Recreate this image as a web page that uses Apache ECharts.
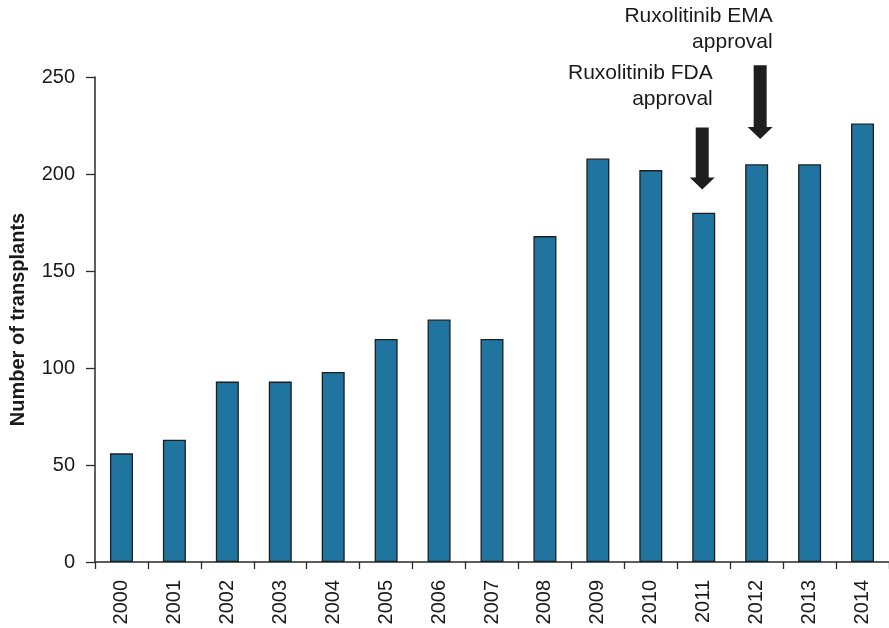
<!DOCTYPE html>
<html>
<head>
<meta charset="utf-8">
<script src="https://cdn.jsdelivr.net/npm/echarts@6/dist/echarts.min.js"></script>
<style>html,body{margin:0;padding:0;background:#fff}#c{width:889px;height:628px}</style>
</head>
<body>
<div id="c"></div>
<script>
const years = ['2000','2001','2002','2003','2004','2005','2006','2007','2008','2009','2010','2011','2012','2013','2014'];
const transplants = [56, 63, 93, 93, 98, 115, 125, 115, 168, 208, 202, 180, 205, 205, 226];
const yTicks = [0, 50, 100, 150, 200, 250];
const arrowYears = ['2011', '2012'];
const arrowTip = [192, 218];
const arrowTop = [224, 256];
const arrowLabels = ['Ruxolitinib FDA\napproval', 'Ruxolitinib EMA\napproval'];

const FONT = 'Liberation Sans, Arial, Helvetica, sans-serif';
const chart = echarts.init(document.getElementById('c'));

const arrowData = arrowYears.map((y, i) => [y, arrowTip[i], arrowTop[i]]);
// per-arrow horizontal nudge, text offsets (style only)
const arrowNudge = [-1.5, 3.5];
const textDx = [10.5, 12.5];
const textDy = [15, 10];

chart.setOption({
  animation: false,
  grid: { left: 95, right: 0, top: 77, bottom: 66, outerBoundsMode: 'none', containLabel: false },
  xAxis: {
    type: 'category',
    data: years,
    axisLine: { lineStyle: { color: '#2a2a2a', width: 1.5 } },
    axisTick: { show: true, length: 7, lineStyle: { color: '#2a2a2a', width: 1.3 } },
    axisLabel: { rotate: 90, fontSize: 20, color: '#1a1a1a', fontFamily: FONT, margin: 18 }
  },
  yAxis: {
    type: 'value',
    min: yTicks[0],
    max: yTicks[yTicks.length - 1],
    interval: 50,
    name: 'Number of transplants',
    nameLocation: 'middle',
    nameGap: 67,
    nameTextStyle: { fontSize: 20, fontWeight: 'bold', color: '#1a1a1a', fontFamily: FONT },
    splitLine: { show: false },
    axisLine: { show: true, lineStyle: { color: '#2a2a2a', width: 1.5 } },
    axisTick: { show: true, length: 9, lineStyle: { color: '#2a2a2a', width: 1.3 } },
    axisLabel: { fontSize: 20, color: '#1a1a1a', fontFamily: FONT, margin: 20 }
  },
  series: [
    {
      type: 'bar',
      data: transplants,
      barWidth: 23,
      itemStyle: { color: '#1f74a0', borderColor: '#1e1e1e', borderWidth: 1.3 }
    },
    {
      type: 'custom',
      data: arrowData,
      clip: false,
      z: 10,
      renderItem: function (params, api) {
        const i = params.dataIndex;
        const tip = api.coord([api.value(0), api.value(1)]);
        const top = api.coord([api.value(0), api.value(2)]);
        const cx = tip[0] + arrowNudge[i];
        const shaftHalf = 6.5, headHalf = 12.5, headLen = 12;
        const pts = [
          [cx - shaftHalf, top[1]],
          [cx + shaftHalf, top[1]],
          [cx + shaftHalf, tip[1] - headLen],
          [cx + headHalf, tip[1] - headLen],
          [cx, tip[1]],
          [cx - headHalf, tip[1] - headLen],
          [cx - shaftHalf, tip[1] - headLen]
        ];
        return {
          type: 'group',
          children: [
            { type: 'polygon', shape: { points: pts }, style: { fill: '#1e1e1e' } },
            {
              type: 'text',
              style: {
                text: arrowLabels[i],
                x: cx + textDx[i],
                y: top[1] - textDy[i],
                align: 'right',
                verticalAlign: 'bottom',
                fontSize: 21,
                lineHeight: 26,
                fill: '#1a1a1a',
                fontFamily: FONT
              }
            }
          ]
        };
      }
    }
  ]
});
</script>
</body>
</html>
